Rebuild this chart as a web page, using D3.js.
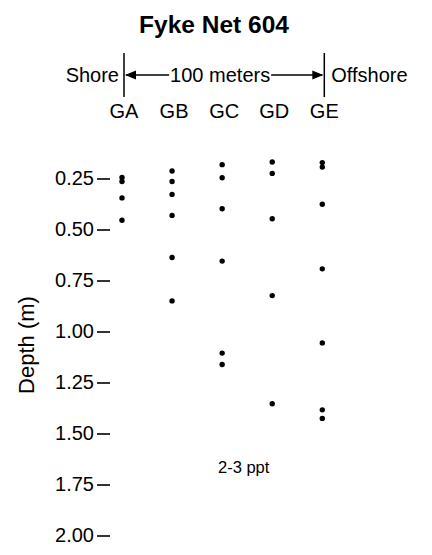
<!DOCTYPE html>
<html><head><meta charset="utf-8">
<script src="https://cdn.jsdelivr.net/npm/d3@7"></script>
<style>html,body{margin:0;padding:0;background:#fff}svg{display:block}</style>
</head><body>
<script>
const title = "Fyke Net 604";
const columns = ["GA","GB","GC","GD","GE"];
const depthsGA = [0.245, 0.265, 0.345, 0.455];
const depthsGB = [0.213, 0.265, 0.328, 0.431, 0.637, 0.85];
const depthsGC = [0.182, 0.246, 0.398, 0.655, 1.106, 1.162];
const depthsGD = [0.169, 0.225, 0.447, 0.824, 1.354];
const depthsGE = [0.172, 0.194, 0.376, 0.693, 1.056, 1.384, 1.426];
const tickValues = [0.25, 0.50, 0.75, 1.00, 1.25, 1.50, 1.75, 2.00];
const yLabel = "Depth (m)";
const shoreLabel = "Shore", offLabel = "Offshore", distLabel = "100 meters";
const note = "2-3 ppt";

const W = 432, H = 555;
const font = "'Liberation Sans', Arial, Helvetica, sans-serif";
const svg = d3.select("body").append("svg").attr("width", W).attr("height", H)
  .style("font-family", font);

const x = d3.scalePoint().domain(columns).range([122, 322.3]);
const y = d3.scaleLinear().domain([0.25, 2.00]).range([178.5, 535.5]);

const series = [depthsGA, depthsGB, depthsGC, depthsGD, depthsGE];
const points = [];
columns.forEach((c, i) => series[i].forEach(d => points.push({col: c, depth: d})));

// Title
svg.append("text").attr("x", 214).attr("y", 33).attr("text-anchor", "middle")
  .attr("font-size", 24.5).attr("font-weight", "bold").text(title);

// Header: bars, arrows
const xl = x("GA") + 2, xr = x("GE") + 2;
svg.append("line").attr("x1", xl).attr("x2", xl).attr("y1", 53).attr("y2", 97)
  .attr("stroke", "#000").attr("stroke-width", 1.5);
svg.append("line").attr("x1", xr).attr("x2", xr).attr("y1", 53).attr("y2", 97)
  .attr("stroke", "#000").attr("stroke-width", 1.5);
const ay = 75;
svg.append("text").attr("x", xl - 5).attr("y", 82).attr("text-anchor", "end")
  .attr("font-size", 20).text(shoreLabel);
svg.append("text").attr("x", xr + 7).attr("y", 82).attr("text-anchor", "start")
  .attr("font-size", 20).text(offLabel);
const mid = svg.append("text").attr("x", (xl + xr) / 2 - 4).attr("y", 82).attr("text-anchor", "middle")
  .attr("font-size", 20).text(distLabel);
const bb = mid.node().getBBox();
svg.append("line").attr("x1", xl + 2).attr("x2", bb.x - 1).attr("y1", ay).attr("y2", ay)
  .attr("stroke", "#000").attr("stroke-width", 1.5);
svg.append("line").attr("x1", bb.x + bb.width + 1).attr("x2", xr - 2).attr("y1", ay).attr("y2", ay)
  .attr("stroke", "#000").attr("stroke-width", 1.5);
svg.append("path").attr("d", `M${xl+1},${ay} L${xl+12},${ay-4.5} L${xl+12},${ay+4.5} Z`).attr("fill", "#000");
svg.append("path").attr("d", `M${xr-1},${ay} L${xr-12},${ay-4.5} L${xr-12},${ay+4.5} Z`).attr("fill", "#000");

// Column labels
svg.selectAll("text.col").data(columns).join("text").attr("class", "col")
  .attr("x", d => x(d) + 2).attr("y", 117.5).attr("text-anchor", "middle")
  .attr("font-size", 20).text(d => d);

// Y axis
const axis = d3.axisLeft(y).tickValues(tickValues).tickFormat(d3.format(".2f"))
  .tickSize(13).tickPadding(3);
const g = svg.append("g").attr("transform", "translate(110,0)").call(axis);
g.select(".domain").remove();
g.selectAll(".tick line").attr("stroke", "#000").attr("stroke-width", 1.6);
g.selectAll(".tick text").attr("fill", "#000").attr("font-size", 20).attr("font-family", font);

svg.append("text").attr("transform", "translate(34,345) rotate(-90)")
  .attr("text-anchor", "middle").attr("font-size", 22).text(yLabel);

// Points
svg.selectAll("circle.pt").data(points).join("circle").attr("class", "pt")
  .attr("cx", d => x(d.col)).attr("cy", d => y(d.depth)).attr("r", 2.7).attr("fill", "#000");

// Note
svg.append("text").attr("x", 243.7).attr("y", 472.5).attr("text-anchor", "middle")
  .attr("font-size", 16.5).text(note);
</script>
</body></html>
